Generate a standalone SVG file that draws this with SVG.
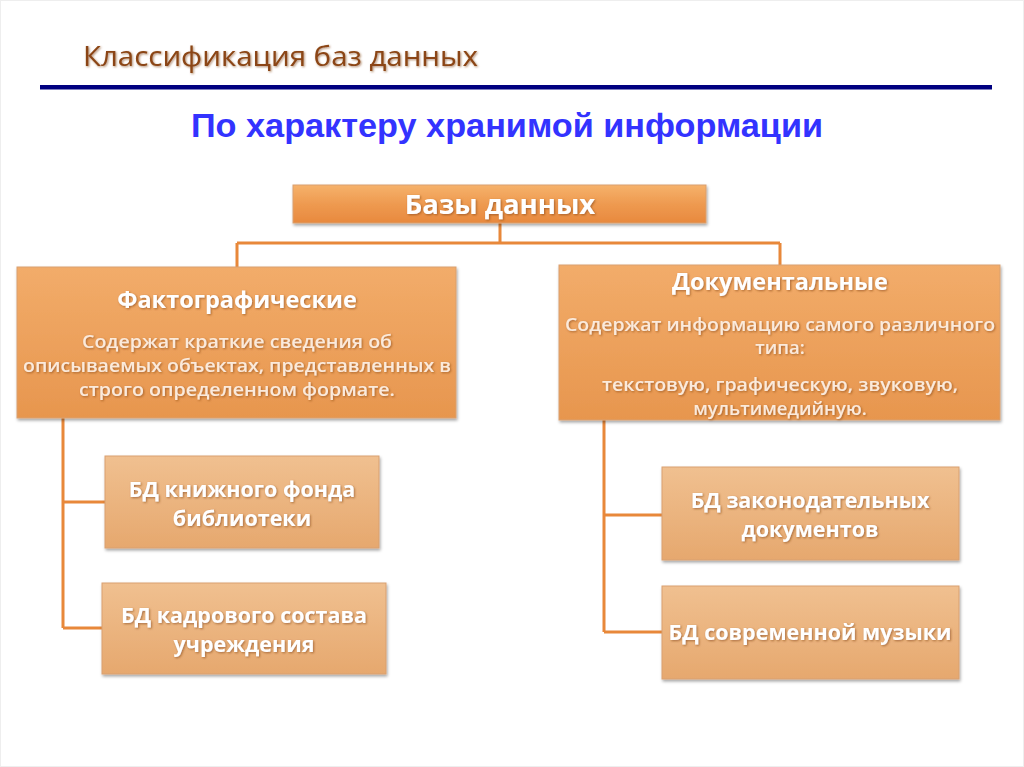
<svg xmlns="http://www.w3.org/2000/svg" width="1024" height="767" viewBox="0 0 1024 767">
<defs>
<linearGradient id="gMain" x1="0" y1="0" x2="0" y2="1">
<stop offset="0" stop-color="#F6B26B"/>
<stop offset="0.5" stop-color="#EE9A50"/>
<stop offset="1" stop-color="#E8893E"/>
</linearGradient>
<linearGradient id="gCat" x1="0" y1="0" x2="0" y2="1">
<stop offset="0" stop-color="#F2AC6A"/>
<stop offset="1" stop-color="#E7964E"/>
</linearGradient>
<linearGradient id="gLeaf" x1="0" y1="0" x2="0" y2="1">
<stop offset="0" stop-color="#F0C090"/>
<stop offset="1" stop-color="#E6A86E"/>
</linearGradient>
<filter id="sh" x="-5%" y="-10%" width="110%" height="130%">
<feDropShadow dx="1" dy="2" stdDeviation="1.5" flood-color="#000" flood-opacity="0.35"/>
</filter>
<filter id="tsh" x="-5%" y="-20%" width="110%" height="150%">
<feDropShadow dx="1" dy="1" stdDeviation="1" flood-color="#7a3b10" flood-opacity="0.6"/>
</filter>
</defs>
<style>
.box{stroke:#D9A070;stroke-width:1;filter:url(#sh)}
.t{font-family:"Open Sans","Noto Sans",sans-serif;fill:#fff;text-anchor:middle;font-weight:bold;filter:url(#tsh)}
.h{font-size:23.5px}
.b{font-size:18.5px;font-weight:600;fill:#FBEADB}
.l{font-size:21.5px}
.c{fill:none;stroke:#E8883A;stroke-width:3}
</style>
<rect x="0" y="0" width="1024" height="767" fill="#fff"/>
<rect x="0.5" y="0.5" width="1023" height="766" fill="none" stroke="#eee"/>
<text x="83" y="66" font-family="Open Sans, Noto Sans, sans-serif" font-size="28" fill="#8B4513" textLength="395" lengthAdjust="spacingAndGlyphs" filter="url(#tsh)">Классификация баз данных</text>
<rect x="40" y="85" width="952" height="4.5" fill="#000080"/>
<text x="507" y="137" font-family="Liberation Sans, Arial, sans-serif" font-size="33" font-weight="bold" fill="#3333FF" text-anchor="middle" textLength="632" lengthAdjust="spacingAndGlyphs">По характеру хранимой информации</text>
<g id="connectors">
<path class="c" d="M500 223 V243 M237 243 H780 M237 243 V267 M780 243 V265"/>
<path class="c" d="M63 418 V628 M63 502 H105 M63 628 H102"/>
<path class="c" d="M604 420 V632 M604 515 H662 M604 632 H662"/>
</g>
<g id="root">
<rect class="box" x="293" y="185" width="413" height="38" fill="url(#gMain)"/>
<text class="t" x="500" y="214" font-size="27.5">Базы данных</text>
</g>
<g id="fact">
<rect class="box" x="17" y="267" width="439" height="151" fill="url(#gCat)"/>
<text class="t h" x="237" y="308">Фактографические</text>
<text class="t b" x="237" y="348" textLength="310" lengthAdjust="spacingAndGlyphs">Содержат краткие сведения об</text>
<text class="t b" x="237" y="372" textLength="428" lengthAdjust="spacingAndGlyphs">описываемых объектах, представленных в</text>
<text class="t b" x="237" y="396" textLength="316" lengthAdjust="spacingAndGlyphs">строго определенном формате.</text>
</g>
<g id="doc">
<rect class="box" x="559" y="265" width="441" height="155" fill="url(#gCat)"/>
<text class="t h" x="780" y="290">Документальные</text>
<text class="t b" x="780" y="331" textLength="430" lengthAdjust="spacingAndGlyphs">Содержат информацию самого различного</text>
<text class="t b" x="780" y="354">типа:</text>
<text class="t b" x="780" y="391" textLength="356" lengthAdjust="spacingAndGlyphs">текстовую, графическую, звуковую,</text>
<text class="t b" x="780" y="415">мультимедийную.</text>
</g>
<g id="books">
<rect class="box" x="105" y="456" width="274" height="92" fill="url(#gLeaf)"/>
<text class="t l" x="242" y="497">БД книжного фонда</text>
<text class="t l" x="242" y="526">библиотеки</text>
</g>
<g id="staff">
<rect class="box" x="102" y="583" width="284" height="91" fill="url(#gLeaf)"/>
<text class="t l" x="244" y="623">БД кадрового состава</text>
<text class="t l" x="244" y="652">учреждения</text>
</g>
<g id="laws">
<rect class="box" x="662" y="467" width="297" height="93" fill="url(#gLeaf)"/>
<text class="t l" x="810" y="508">БД законодательных</text>
<text class="t l" x="810" y="537">документов</text>
</g>
<g id="music">
<rect class="box" x="662" y="586" width="297" height="93" fill="url(#gLeaf)"/>
<text class="t l" x="810" y="640">БД современной музыки</text>
</g>
</svg>
